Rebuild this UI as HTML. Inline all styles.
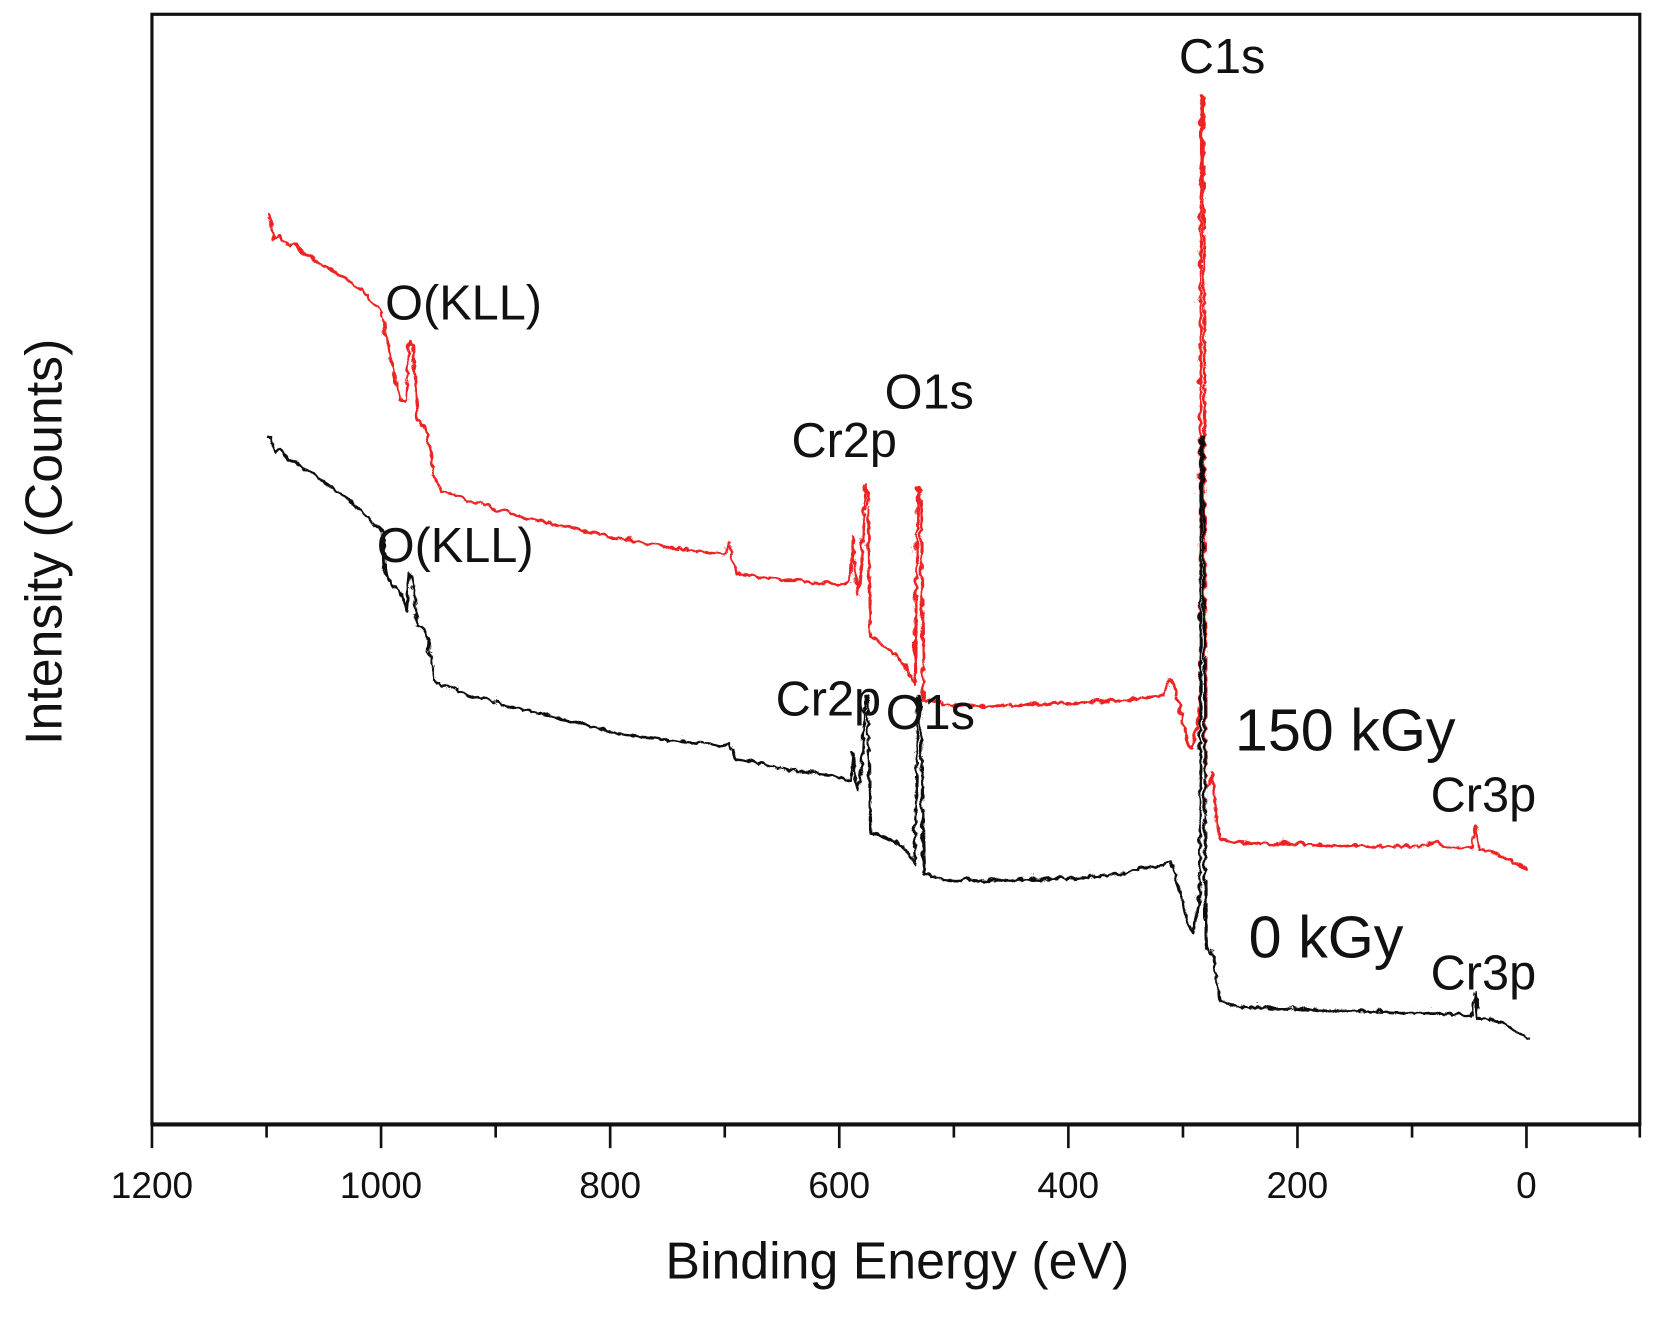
<!DOCTYPE html>
<html><head><meta charset="utf-8"><style>
html,body{margin:0;padding:0;background:#fff;}
svg{display:block;}
text{font-family:"Liberation Sans",Arial,sans-serif;fill:#111;}
</style></head><body>
<svg width="1659" height="1322" viewBox="0 0 1659 1322" xmlns="http://www.w3.org/2000/svg">
<defs>
<filter id="nz" x="-5%" y="-5%" width="110%" height="110%">
<feTurbulence type="turbulence" baseFrequency="0.12 0.09" numOctaves="1" seed="3" result="t"/>
<feDisplacementMap in="SourceGraphic" in2="t" scale="6" xChannelSelector="R" yChannelSelector="G"/>
</filter>
</defs>
<g transform="scale(1.0582)">
<rect x="143.6" y="13.5" width="1406" height="1049" fill="none" stroke="#111" stroke-width="3"/>
<line x1="143.6" y1="1062.6" x2="1549.6" y2="1062.6" stroke="#111" stroke-width="4"/>
<g stroke="#111" stroke-width="2.5">
<line x1="143.6" y1="1063" x2="143.6" y2="1085"/>
<line x1="251.9" y1="1063" x2="251.9" y2="1075"/>
<line x1="360.1" y1="1063" x2="360.1" y2="1085"/>
<line x1="468.4" y1="1063" x2="468.4" y2="1075"/>
<line x1="576.6" y1="1063" x2="576.6" y2="1085"/>
<line x1="684.9" y1="1063" x2="684.9" y2="1075"/>
<line x1="793.1" y1="1063" x2="793.1" y2="1085"/>
<line x1="901.4" y1="1063" x2="901.4" y2="1075"/>
<line x1="1009.6" y1="1063" x2="1009.6" y2="1085"/>
<line x1="1117.9" y1="1063" x2="1117.9" y2="1075"/>
<line x1="1226.1" y1="1063" x2="1226.1" y2="1085"/>
<line x1="1334.4" y1="1063" x2="1334.4" y2="1075"/>
<line x1="1442.5" y1="1063" x2="1442.5" y2="1085"/>
<line x1="1549.6" y1="1063" x2="1549.6" y2="1075"/>
</g>
<g font-size="35" text-anchor="middle">
<text x="143.6" y="1132">1200</text><text x="360" y="1132">1000</text><text x="576.6" y="1132">800</text>
<text x="793" y="1132">600</text><text x="1009.5" y="1132">400</text><text x="1226" y="1132">200</text><text x="1442.5" y="1132">0</text>
</g>
<text x="848" y="1208" font-size="49" text-anchor="middle">Binding Energy (eV)</text>
<text transform="translate(58,512) rotate(-90)" font-size="49" text-anchor="middle">Intensity (Counts)</text>
<g filter="url(#nz)">
<path fill="none" stroke="#ee2222" stroke-width="2.6" stroke-linejoin="round" d="M251.9 205 L253 200 L257.3 225 L262 220 L270 230 L277 228 L284.3 237 L292 240 L300 248 L308 250 L316.8 257 L325 260 L333 268 L341 272 L349.3 282 L356.9 290 L360.1 300 L368.8 345 L376.3 375 L381.8 378 L385 320 L388.2 325 L392.6 395 L401.2 405 L408.8 450 L414.2 462 L427 465 L441.3 472 L455 474 L468.4 481 L482 483 L495.4 488 L509 490 L522.5 494 L536 495 L549.5 500 L563 502 L576.6 506 L590 508 L603.7 511 L617 513 L630.7 516 L644 517 L657.8 519 L670 520 L682.7 522 L687 510 L693.5 540 L705 541 L717.3 544 L728 544 L739 546 L752 546 L766 549 L780 549 L793.1 551 L801.8 546 L803.9 505 L806.1 540 L809.3 560 L812.6 520 L815.8 457 L818 457 L820.2 600 L828 605 L836.4 611 L844 617 L852.6 626 L858 636 L862.4 646 L865.6 460 L867.8 460 L871 660 L879.7 660 L890 664 L901.4 665 L915 664 L928.4 666 L942 664 L955.5 665 L969 663 L982.6 664 L996 662 L1009.6 663 L1023 661 L1036.7 662 L1050 660 L1063.7 660 L1080 657 L1096.2 655 L1104.9 640 L1112.5 660 L1120 700 L1124.4 705 L1128.7 690 L1131.9 660 L1133 88 L1135.2 88 L1137.3 740 L1141.7 740 L1143.8 730 L1147.1 770 L1150.4 790 L1160 793 L1172 795 L1185 794 L1199.1 796 L1212 795 L1226.1 796 L1240 796 L1253.2 797 L1267 797 L1280.3 797 L1294 798 L1307.3 798 L1320 798 L1334.4 798 L1345 797 L1356 792 L1361.4 798 L1375 799 L1388.5 800 L1392.8 778 L1395 800 L1402 802 L1410.2 805 L1418 808 L1426.4 812 L1434 816 L1442.5 820"/>
<path fill="none" stroke="#111" stroke-width="2.6" stroke-linejoin="round" d="M251.9 412 L253 410 L257.3 425 L262 422 L270 432 L277 434 L284.3 440 L292 444 L300 450 L308 456 L316.8 463 L325 468 L333 476 L341 482 L349.3 490 L356.9 497 L360.1 500 L362 540 L368.8 550 L376.3 556 L381.8 575 L385 540 L388.2 545 L392.6 590 L401.2 595 L408.8 640 L414.2 645 L427 650 L441.3 655 L455 658 L468.4 663 L482 666 L495.4 669 L509 672 L522.5 676 L536 679 L549.5 683 L563 686 L576.6 690 L590 692 L603.7 694 L617 695 L630.7 698 L644 699 L657.8 700 L670 701 L682.7 703 L687 700 L693.5 715 L705 717 L717.3 720 L728 722 L739 725 L752 727 L766 728 L780 730 L793.1 733 L801.8 736 L803.9 710 L806.1 735 L809.3 745 L812.6 720 L815.8 655 L818 655 L820.2 785 L828 787 L836.4 790 L844 793 L852.6 800 L858 808 L862.4 815 L865.6 655 L867.8 655 L871 825 L879.7 826 L890 829 L901.4 830 L915 829 L928.4 831 L942 829 L955.5 830 L969 829 L982.6 830 L996 828 L1009.6 829 L1023 827 L1036.7 826 L1050 825 L1063.7 823 L1075 818 L1090 817 L1096.2 815 L1104.9 812 L1112.5 840 L1120 870 L1124.4 880 L1128.7 860 L1131.9 850 L1133 410 L1135.2 410 L1137.3 890 L1141.7 900 L1143.8 895 L1147.1 920 L1150.4 945 L1160 948 L1172 950 L1185 950 L1199.1 951 L1212 951 L1226.1 952 L1240 952 L1253.2 953 L1267 953 L1280.3 953 L1294 954 L1307.3 954 L1320 955 L1334.4 955 L1345 955 L1356 955 L1361.4 956 L1375 957 L1388.5 958 L1392.8 935 L1395 960 L1402 961 L1410.2 962 L1418 965 L1426.4 970 L1434 974 L1442.5 980"/>
</g>
<g font-size="46">
<text x="1114" y="69">C1s</text>
<text x="364" y="302">O(KLL)</text>
<text x="836" y="386">O1s</text>
<text x="748" y="432">Cr2p</text>
<text x="356" y="531">O(KLL)</text>
<text x="733" y="676">Cr2p</text>
<text x="837" y="689">O1s</text>
<text x="1352" y="767">Cr3p</text>
<text x="1352" y="935">Cr3p</text>
<text x="1167" y="709" font-size="56">150 kGy</text>
<text x="1180" y="905" font-size="56">0 kGy</text>
</g>
</g>
</svg>
</body></html>
